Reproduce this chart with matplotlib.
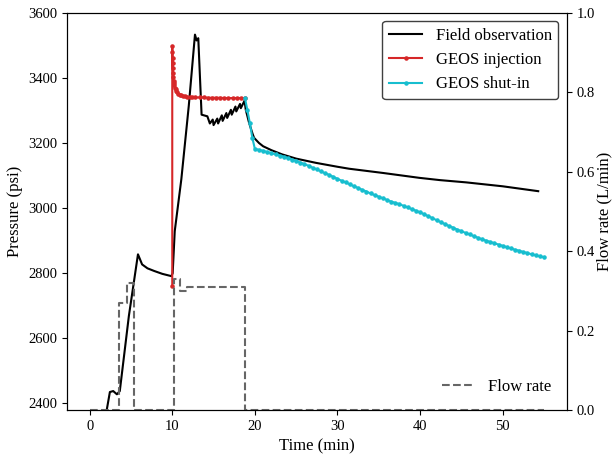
import matplotlib
matplotlib.use('Agg')
import matplotlib.pyplot as plt

plt.rcParams['font.family'] = ['Liberation Serif', 'DejaVu Serif']

# --- field observation (psi) ---
obs_t = [2.0, 2.45, 2.85, 3.3, 3.65, 4.75, 5.85, 6.35, 7.0, 7.8, 8.8, 9.9, 10.05,
         10.3, 11.1, 12.0, 12.75, 12.95, 13.15, 13.55, 14.25, 14.55,
         14.9, 15.0, 15.45, 15.55, 16.0, 16.1, 16.55, 16.65, 17.1, 17.2,
         17.65, 17.75, 18.2, 18.3, 18.75, 18.9, 19.3, 19.7, 19.9, 20.5, 21.0,
         22.0, 23.3, 25.0, 27.4, 30.0, 31.4, 35.5, 39.9, 42.4, 45.6, 50.0, 54.3]
obs_p = [2370, 2435, 2438, 2428, 2438, 2669, 2858, 2827, 2815, 2807, 2798, 2791, 2800,
         2929, 3089, 3314, 3533, 3515, 3522, 3287, 3282, 3260,
         3272, 3255, 3275, 3260, 3285, 3268, 3292, 3277, 3302, 3287,
         3312, 3297, 3320, 3307, 3330, 3302, 3262, 3230, 3216, 3200, 3190,
         3178, 3165, 3152, 3139, 3127, 3121, 3108, 3093, 3086, 3079, 3067, 3052]

# --- GEOS injection ---
inj_t = [10.0, 10.0, 10.02, 10.04, 10.06, 10.08, 10.1, 10.13, 10.16, 10.2, 10.25,
         10.3, 10.4, 10.5, 10.6, 10.75, 10.9, 11.1, 11.3, 11.5, 11.8, 12.1, 12.4,
         12.8, 13.3, 13.8, 14.3, 14.8, 15.3, 15.8, 16.3, 16.8, 17.3, 17.8, 18.3, 18.8]
inj_p = [2760, 3497, 3480, 3462, 3445, 3430, 3415, 3403, 3392, 3384, 3377,
         3370, 3365, 3360, 3356, 3352, 3349, 3347, 3345, 3343, 3342, 3341, 3341,
         3340, 3340, 3340, 3339, 3339, 3339, 3339, 3338, 3338, 3338, 3338, 3338, 3338]

# --- GEOS shut-in ---
shut_t = [18.8, 19.1, 19.4, 19.7, 20.0, 20.5, 21.0, 21.5, 22.0, 22.5, 23.0, 23.5,
          24.0, 24.5, 25.0, 25.5, 26.0, 26.5, 27.0, 27.5, 28.0, 28.5, 29.0, 29.5,
          30.0, 30.5, 31.0, 31.5, 32.0, 32.5, 33.0, 33.5, 34.0, 34.5, 35.0, 35.5,
          36.0, 36.5, 37.0, 37.5, 38.0, 38.5, 39.0, 39.5, 40.0, 40.5, 41.0, 41.5,
          42.0, 42.5, 43.0, 43.5, 44.0, 44.5, 45.0, 45.5, 46.0, 46.5, 47.0, 47.5,
          48.0, 48.5, 49.0, 49.5, 50.0, 50.5, 51.0, 51.5, 52.0, 52.5, 53.0, 53.5,
          54.0, 54.5, 55.0]
shut_p = [3338, 3300, 3260, 3215, 3182, 3179, 3176, 3172, 3169, 3165, 3161, 3158,
          3154, 3149, 3145, 3140, 3135, 3130, 3124, 3119, 3113, 3107, 3102, 3096,
          3090, 3084, 3079, 3073, 3067, 3062, 3056, 3051, 3045, 3040, 3035, 3030,
          3025, 3020, 3016, 3012, 3007, 3002, 2997, 2992, 2987, 2981, 2975, 2969,
          2963, 2957, 2951, 2945, 2940, 2934, 2929, 2924, 2919, 2914, 2909, 2904,
          2900, 2896, 2892, 2888, 2884, 2880, 2876, 2872, 2869, 2865, 2862, 2858,
          2855, 2852, 2849]

# --- flow rate (L/min), step function ---
flow_t = [0, 3.5, 4.5, 5.35, 10.2, 10.95, 11.8, 18.8, 55]
flow_q = [0, 0.27, 0.32, 0, 0.33, 0.30, 0.31, 0, 0]

fig = plt.figure(figsize=(6.14, 4.57), dpi=100)
ax = fig.add_subplot(111)
fig.subplots_adjust(left=0.109, right=0.923, bottom=0.103, top=0.972)

ax.plot(obs_t, obs_p, color='k', lw=1.5, label='Field observation')
ax.plot(inj_t, inj_p, '.-', color='#d62728', lw=1.5, ms=4.5, label='GEOS injection')
ax.plot(shut_t, shut_p, '.-', color='#17becf', lw=1.5, ms=4.5, label='GEOS shut-in')
ax.set_xlim(-2.75, 57.75)
ax.set_ylim(2380, 3600)
ax.set_yticks(range(2400, 3601, 200))
ax.set_xticks(range(0, 51, 10))
ax.set_xlabel('Time (min)', fontsize=12)
ax.set_ylabel('Pressure (psi)', fontsize=12)
ax.tick_params(labelsize=10.5)
leg = ax.legend(loc='upper right', fontsize=12, fancybox=True, framealpha=1,
                edgecolor='0.25', handlelength=2.0)

ax2 = ax.twinx()
ax2.plot(flow_t, flow_q, '--', color='0.4', lw=1.5, drawstyle='steps-post',
         label='Flow rate')
ax2.set_ylim(0, 1.0)
ax2.set_yticks([0, 0.2, 0.4, 0.6, 0.8, 1.0])
ax2.set_yticklabels(['%.1f' % v for v in [0, 0.2, 0.4, 0.6, 0.8, 1.0]])
ax2.set_ylabel('Flow rate (L/min)', fontsize=12, labelpad=1)
ax2.tick_params(labelsize=10.5)
ax2.legend(loc='lower right', fontsize=12, frameon=False)

plt.savefig('out.png', dpi=100)
